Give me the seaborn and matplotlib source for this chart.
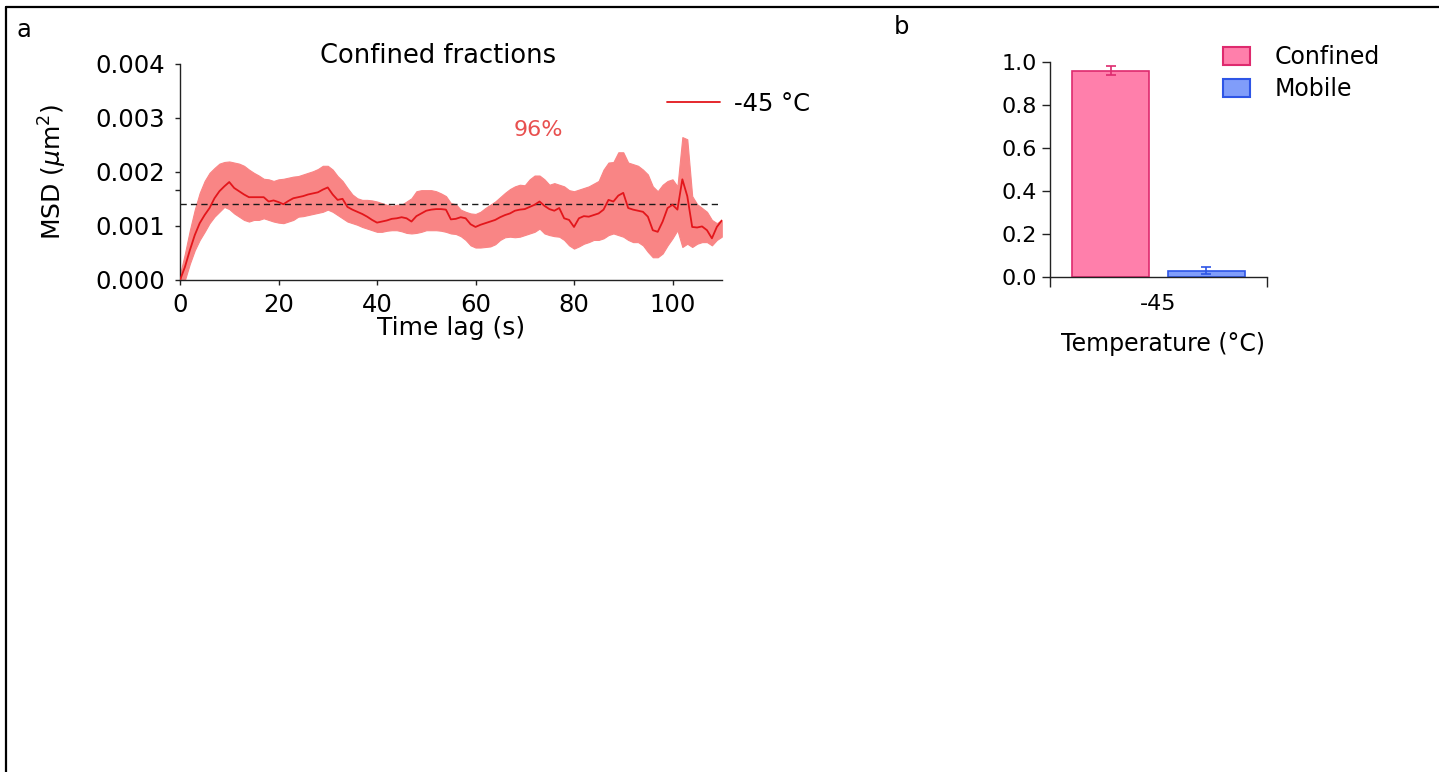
import numpy as np
import pandas as pd
import matplotlib
matplotlib.use("Agg")
import matplotlib.pyplot as plt
from matplotlib.lines import Line2D
from matplotlib.patches import Patch
from matplotlib.ticker import FormatStrFormatter
import seaborn as sns

# ---------------- data ----------------
# Panel a: mean squared displacement vs. time lag (values in 1e-3 um^2)
time_lag_s = list(range(0, 111))
msd_mean_1e3 = [
    0.00, 0.24, 0.55, 0.83, 1.05, 1.20, 1.33, 1.51, 1.64, 1.73,
    1.81, 1.70, 1.64, 1.58, 1.53, 1.53, 1.53, 1.53, 1.45, 1.47,
    1.44, 1.40, 1.46, 1.51, 1.53, 1.55, 1.58, 1.60, 1.62, 1.67,
    1.71, 1.58, 1.48, 1.50, 1.35, 1.30, 1.26, 1.22, 1.17, 1.11,
    1.06, 1.08, 1.10, 1.13, 1.14, 1.16, 1.14, 1.08, 1.18, 1.23,
    1.28, 1.30, 1.31, 1.31, 1.30, 1.12, 1.13, 1.16, 1.14, 1.03,
    0.98, 1.02, 1.05, 1.08, 1.11, 1.16, 1.20, 1.23, 1.28, 1.30,
    1.31, 1.35, 1.39, 1.45, 1.37, 1.31, 1.28, 1.33, 1.14, 1.11,
    0.98, 1.14, 1.18, 1.17, 1.20, 1.23, 1.30, 1.48, 1.45, 1.56,
    1.61, 1.33, 1.30, 1.28, 1.26, 1.17, 0.92, 0.89, 1.08, 1.33,
    1.39, 1.30, 1.86, 1.55, 0.98, 0.97, 0.99, 0.92, 0.77, 0.98,
    1.10,
]
msd_upper_1e3 = [
    0.10, 0.49, 0.92, 1.30, 1.61, 1.83, 1.98, 2.07, 2.15, 2.18,
    2.19, 2.17, 2.15, 2.11, 2.04, 1.98, 1.93, 1.87, 1.86, 1.83,
    1.86, 1.87, 1.89, 1.91, 1.92, 1.95, 1.98, 2.01, 2.05, 2.11,
    2.11, 2.04, 1.92, 1.83, 1.70, 1.58, 1.51, 1.48, 1.48, 1.47,
    1.45, 1.42, 1.39, 1.37, 1.39, 1.39, 1.45, 1.51, 1.64, 1.66,
    1.66, 1.66, 1.64, 1.60, 1.55, 1.42, 1.40, 1.30, 1.26, 1.23,
    1.22, 1.26, 1.33, 1.39, 1.45, 1.53, 1.61, 1.68, 1.73, 1.76,
    1.75, 1.86, 1.93, 1.93, 1.86, 1.76, 1.79, 1.76, 1.73, 1.66,
    1.64, 1.67, 1.70, 1.73, 1.78, 1.83, 2.04, 2.17, 2.18, 2.36,
    2.36, 2.17, 2.14, 2.11, 2.04, 1.95, 1.73, 1.64, 1.76, 1.83,
    1.86, 1.73, 2.64, 2.60, 1.55, 1.40, 1.33, 1.26, 1.11, 1.05,
    1.11,
]
msd_lower_1e3 = [
    0.00, 0.00, 0.30, 0.55, 0.74, 0.89, 1.05, 1.17, 1.26, 1.35,
    1.31, 1.23, 1.17, 1.11, 1.08, 1.11, 1.11, 1.14, 1.11, 1.08,
    1.06, 1.05, 1.08, 1.11, 1.17, 1.18, 1.20, 1.22, 1.24, 1.26,
    1.30, 1.26, 1.20, 1.14, 1.08, 1.05, 1.02, 0.98, 0.95, 0.92,
    0.89, 0.89, 0.91, 0.92, 0.92, 0.90, 0.87, 0.86, 0.87, 0.89,
    0.92, 0.92, 0.92, 0.91, 0.89, 0.86, 0.85, 0.81, 0.74, 0.64,
    0.60, 0.60, 0.61, 0.62, 0.66, 0.74, 0.79, 0.80, 0.79, 0.80,
    0.83, 0.86, 0.89, 0.95, 0.86, 0.83, 0.81, 0.80, 0.74, 0.64,
    0.58, 0.62, 0.67, 0.70, 0.74, 0.74, 0.77, 0.83, 0.86, 0.83,
    0.80, 0.74, 0.70, 0.70, 0.64, 0.52, 0.42, 0.42, 0.49, 0.64,
    0.77, 0.92, 0.61, 0.67, 0.61, 0.67, 0.70, 0.70, 0.64, 0.74,
    0.80,
]
plateau_msd = 0.0014
confined_pct_label = "96%"
series_label = "-45 °C"

# Panel b: confined / mobile fractions
temperatures = ["-45", "-45"]
states = ["Confined", "Mobile"]
fractions = [0.96, 0.03]
fraction_err = [0.02, 0.017]

# ---------------- style ----------------
sns.set_style("ticks")
plt.rcParams["font.family"] = ["DejaVu Sans"]
plt.rcParams["axes.edgecolor"] = "#222222"
plt.rcParams["axes.labelcolor"] = "black"
plt.rcParams["xtick.color"] = "#222222"
plt.rcParams["ytick.color"] = "#222222"
plt.rcParams["text.color"] = "black"
plt.rcParams["xtick.labelcolor"] = "black"
plt.rcParams["ytick.labelcolor"] = "black"
plt.rcParams["axes.linewidth"] = 1.0

BAND = "#F98585"
LINE = "#E3161B"
FACE = {"Confined": "#FF7FAB", "Mobile": "#809DFA"}
EDGE = {"Confined": "#DE2A6E", "Mobile": "#2E55E6"}

W, H = 1439, 772
fig = plt.figure(figsize=(W / 100, H / 100), dpi=100)


def axes_px(left, top, right, bottom):
    return fig.add_axes([left / W, 1 - bottom / H, (right - left) / W, (bottom - top) / H])


ax_a = axes_px(180, 63.5, 721.75, 280)
ax_b = axes_px(1050, 62, 1267, 277)

# ---------------- panel a ----------------
df_a = pd.DataFrame({
    "time_lag": time_lag_s,
    "msd": np.asarray(msd_mean_1e3) * 1e-3,
    "upper": np.asarray(msd_upper_1e3) * 1e-3,
    "lower": np.asarray(msd_lower_1e3) * 1e-3,
})
ax_a.fill_between(df_a["time_lag"], df_a["lower"], df_a["upper"],
                  color=BAND, lw=0.8, edgecolor=BAND, zorder=1)
ax_a.axhline(plateau_msd, color="#1a1a1a", lw=1.0, ls=(0, (4.5, 3)), zorder=2)
sns.lineplot(data=df_a, x="time_lag", y="msd", color=LINE, lw=1.3,
             label=series_label, ax=ax_a, zorder=3)

ax_a.set_xlim(0, 110)
ax_a.set_ylim(0, 0.004)
ax_a.set_xticks(range(0, 101, 20))
ax_a.set_yticks(np.arange(0, 0.0041, 0.001))
ax_a.set_yticks([0.00166], minor=True)
ax_a.yaxis.set_major_formatter(FormatStrFormatter("%.3f"))
ax_a.tick_params(axis="both", which="major", length=3.6, width=1, labelsize=17.5)
ax_a.tick_params(axis="x", which="major", pad=6)
ax_a.tick_params(axis="y", which="major", pad=7)
ax_a.tick_params(axis="y", which="minor", length=3.6, width=1)
sns.despine(ax=ax_a)

ax_a.set_xlabel("Time lag (s)", fontsize=18)
ax_a.xaxis.set_label_coords(0.5, -0.165)
ax_a.set_ylabel(r"MSD ($\mu$m$^2$)", fontsize=18)
ax_a.yaxis.set_label_coords(-0.205, 0.5)

ax_a.text(0.476, 1.035, "Confined fractions", transform=ax_a.transAxes,
          ha="center", va="center", fontsize=18.5)
ax_a.text(72.7, 0.00278, confined_pct_label, color="#E8504F", fontsize=16,
          ha="center", va="center")
ax_a.legend(loc="center left", bbox_to_anchor=((667 - 180) / 541.75, (280 - 104) / 216.5),
            frameon=False, fontsize=17.5, handlelength=2.2, handletextpad=0.55,
            borderpad=0, borderaxespad=0)

# ---------------- panel b ----------------
df_b = pd.DataFrame({"temperature": temperatures, "state": states, "fraction": fractions})
sns.barplot(data=df_b, x="temperature", y="fraction", hue="state", hue_order=states,
            palette=FACE, saturation=1, width=0.88, gap=0.19, errorbar=None,
            legend=False, ax=ax_b, zorder=2)

for container, state, err in zip(ax_b.containers, states, fraction_err):
    centers, heights = [], []
    for bar in container:
        bar.set_edgecolor(EDGE[state])
        bar.set_linewidth(1.2)
        centers.append(bar.get_x() + bar.get_width() / 2)
        heights.append(bar.get_height())
    ax_b.errorbar(centers, heights, yerr=err, fmt="none", ecolor=EDGE[state],
                  elinewidth=1.2, capsize=3.5, capthick=1.2, zorder=3)

ax_b.set_xlim(-0.5, 0.5)
ax_b.set_ylim(0, 1.0)
ax_b.set_yticks(np.arange(0, 1.01, 0.2))
ax_b.yaxis.set_major_formatter(FormatStrFormatter("%.1f"))
ax_b.set_xticks([0])
ax_b.set_xticklabels([temperatures[0]])
ax_b.set_xticks([-0.5, 0.5], minor=True)
ax_b.tick_params(axis="x", which="major", length=0, pad=12, labelsize=16)
ax_b.tick_params(axis="x", which="minor", length=7.5, width=1)
ax_b.tick_params(axis="y", which="major", length=5.8, width=1, pad=3.6, labelsize=16)
sns.despine(ax=ax_b)
ax_b.set_ylabel("")
ax_b.set_xlabel("Temperature (°C)", fontsize=17)
ax_b.xaxis.set_label_coords(0.52, -0.256)

legend_handles = [Patch(facecolor=FACE[s], edgecolor=EDGE[s], lw=1.5, label=s) for s in states]
ax_b.legend(handles=legend_handles, loc="upper left", bbox_to_anchor=(1223 / W, 1 - 45 / H),
            bbox_transform=fig.transFigure, frameon=False, fontsize=17,
            handlelength=1.15, handleheight=0.78, handletextpad=1.05,
            labelspacing=0.35, borderpad=0, borderaxespad=0)

# ---------------- panel letters and frame ----------------
fig.text(24 / W, 1 - 30 / H, "a", ha="center", va="center", fontsize=17.5)
fig.text(901 / W, 1 - 27 / H, "b", ha="center", va="center", fontsize=17.5)
fig.add_artist(Line2D([5.7 / W, 5.7 / W], [0, 1 - 7 / H], transform=fig.transFigure,
                      color="black", lw=1.6))
fig.add_artist(Line2D([5.7 / W, 1], [1 - 7 / H, 1 - 7 / H], transform=fig.transFigure,
                      color="black", lw=1.6))

fig.savefig("out.png", dpi=100)
